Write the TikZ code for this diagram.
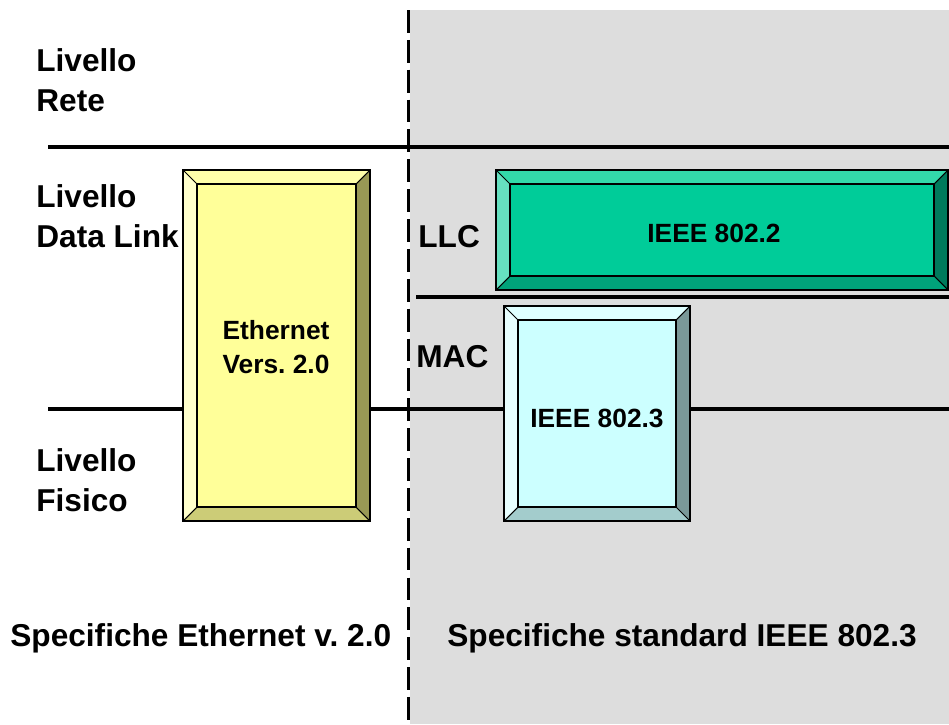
\documentclass[tikz,border=0pt]{standalone}
\usepackage{fontspec}
\setmainfont{Liberation Sans}
\usepackage{tikz}
\frenchspacing

% bevel colours: face, top, left, right, bottom
\definecolor{yelface}{HTML}{FFFF99}
\definecolor{yeltop}{HTML}{FFFFAA}
\definecolor{yelleft}{HTML}{FFFFCC}
\definecolor{yelright}{HTML}{999955}
\definecolor{yelbottom}{HTML}{CCCC77}
\definecolor{grnface}{HTML}{00CC99}
\definecolor{grntop}{HTML}{33D9AA}
\definecolor{grnleft}{HTML}{66E0C0}
\definecolor{grnright}{HTML}{007A5C}
\definecolor{grnbottom}{HTML}{00A37A}
\definecolor{cyaface}{HTML}{CCFFFF}
\definecolor{cyatop}{HTML}{DFFFFF}
\definecolor{cyaleft}{HTML}{E8FFFF}
\definecolor{cyaright}{HTML}{7A9999}
\definecolor{cyabottom}{HTML}{A3CCCC}
\definecolor{stdgray}{HTML}{DDDDDD}

\tikzset{
  layer/.style={line width=2.3pt},
  lbl/.style={font=\bfseries\fontsize{18}{22.5}\selectfont, inner sep=0pt, align=left},
  boxlbl/.style={font=\bfseries\fontsize{15}{19}\selectfont, inner sep=0pt, align=center}
}

% \bevbox{name}{x1}{y1}{x2}{y2}{colour prefix}{text}
\newcommand{\bevbox}[7]{
  \fill[#6top] (#2,#3) -- (#4,#3) -- (#4-14,#3+14) -- (#2+14,#3+14) -- cycle;
  \fill[#6left] (#2,#3) -- (#2+14,#3+14) -- (#2+14,#5-14) -- (#2,#5) -- cycle;
  \fill[#6right] (#4,#3) -- (#4,#5) -- (#4-14,#5-14) -- (#4-14,#3+14) -- cycle;
  \fill[#6bottom] (#2,#5) -- (#4,#5) -- (#4-14,#5-14) -- (#2+14,#5-14) -- cycle;
  \draw[fill=#6face, line width=0.6pt] (#2+14,#3+14) rectangle (#4-14,#5-14);
  \draw[line width=0.6pt] (#2,#3) rectangle (#4,#5);
  \draw[line width=0.6pt] (#2,#3) -- (#2+14,#3+14);
  \draw[line width=0.6pt] (#4,#3) -- (#4-14,#3+14);
  \draw[line width=0.6pt] (#2,#5) -- (#2+14,#5-14);
  \draw[line width=0.6pt] (#4,#5) -- (#4-14,#5-14);
  \node[boxlbl] (#1) at ({(#2+#4)/2},{(#3+#5)/2}) {#7};
}

\begin{document}
\begin{tikzpicture}[x=0.02cm, y=-0.02cm]
    \useasboundingbox (0,0) rectangle (949,724);
    \fill[stdgray] (410,10) rectangle (949,724);

    % layer boundaries
    \coordinate (topw) at (48,147);
    \coordinate (tope) at (949,147);
    \coordinate (midw) at (416,297);
    \coordinate (mide) at (949,297);
    \coordinate (botw) at (48,409);
    \coordinate (bote) at (949,409);
    \coordinate (splitn) at (408,10);
    \coordinate (splits) at (408,724);
    \draw[layer] (topw) -- (tope);
    \draw[layer] (midw) -- (mide);
    \draw[layer] (botw) -- (bote);
    \draw[line width=1.7pt, dash pattern=on 13pt off 4pt] (splitn) -- (splits);

    \bevbox{eth}{183}{170}{370}{521}{yel}{}
    \bevbox{llcbox}{496}{170}{948}{290}{grn}{}
    \bevbox{macbox}{504}{306}{690}{521}{cya}{}

    \node[boxlbl] (ethtxt) at (276,347) {Ethernet\\Vers. 2.0};
    \node[boxlbl] (llctxt) at (714,233) {IEEE 802.2};
    \node[boxlbl] (mactxt) at (597,418) {IEEE 802.3};

    \node[lbl, anchor=west] (rete) at (36,80) {Livello\\Rete};
    \node[lbl, anchor=west] (dlink) at (36,216) {Livello\\Data Link};
    \node[lbl, anchor=west] (fisico) at (36,480) {Livello\\Fisico};
    \node[lbl, anchor=west] (llc) at (418,237) {LLC};
    \node[lbl, anchor=west] (mac) at (416,357) {MAC};

    \node[lbl, anchor=west] (speceth) at (10,638) {Specifiche Ethernet v. 2.0};
    \node[lbl, anchor=west] (specieee) at (447,638) {Specifiche standard IEEE 802.3};
\end{tikzpicture}
\end{document}
